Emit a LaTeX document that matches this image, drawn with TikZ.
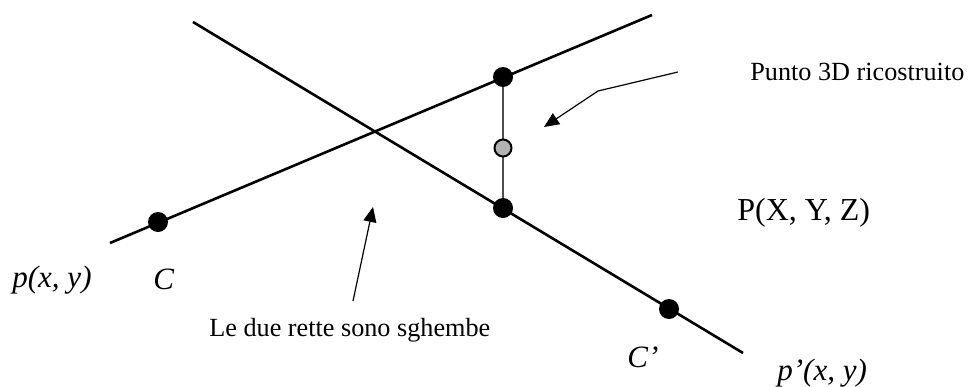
\documentclass[tikz,border=0pt]{standalone}
\usepackage{fontspec}
\setmainfont{Liberation Serif}
\usetikzlibrary{arrows.meta}

\begin{document}
\begin{tikzpicture}[x=0.5pt,y=-0.5pt,
  ray/.style={line width=1.3pt},
  bigdot/.style={circle,fill=black,inner sep=0pt,minimum size=10pt},
  middot/.style={circle,draw=black,line width=1pt,fill=gray!60,inner sep=0pt,minimum size=8.5pt},
  pointer/.style={line width=0.6pt,-{Triangle[length=7.5pt,width=6.5pt]}},
  big/.style={font=\fontsize{16}{18}\selectfont,anchor=base west,inner sep=0pt},
  lab/.style={big,font=\fontsize{15.5}{18}\selectfont\itshape},
  note/.style={font=\fontsize{13.1}{15}\selectfont,anchor=base west,inner sep=0pt}]
\useasboundingbox (0,0) rectangle (969,386);
% le due rette
\coordinate (r1a) at (110,243);
\coordinate (r1b) at (652,15);
\coordinate (r2a) at (193,22);
\coordinate (r2b) at (743,353);
\draw[ray] (r1a) -- (r1b);
\draw[ray] (r2a) -- (r2b);
% centri e punti
\node[bigdot] (c) at (158,222) {};
\node[bigdot] (top) at (503,77) {};
\node[bigdot] (bot) at (503,208) {};
\node[bigdot] (c2) at (669,309) {};
\draw[gray!60!black,line width=0.8pt] (top) -- (bot);
\node[middot] (p3d) at (503,148) {};
% etichette
\node[note] (punto) at (750,80) {Punto 3D ricostruito};
\node[big] (pxyz) at (737,220) {P(X, Y, Z)};
\node[lab] (px) at (12,287) {p(x, y)};
\node[lab] (cl) at (153,289) {C};
\node[lab] (c2l) at (627,367) {C’};
\node[lab] (p2x) at (777,380) {p’(x, y)};
\node[note] (sgh) at (209,336) {Le due rette sono sghembe};
% frecce
\coordinate (a1) at (678,72);
\coordinate (a1k) at (598,91);
\coordinate (a1t) at (544,127);
\draw[pointer] (a1) -- (a1k) -- (a1t);
\coordinate (a2) at (353,301);
\coordinate (a2t) at (373,207);
\draw[pointer] (a2) -- (a2t);
\end{tikzpicture}
\end{document}
